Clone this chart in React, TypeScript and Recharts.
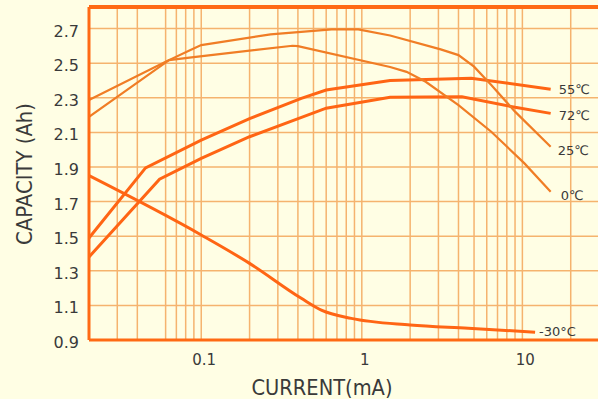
import React from "react"
import { LineChart, Line, XAxis, YAxis, CartesianGrid, ReferenceLine, Label } from "recharts"

// discharge current (mA) and capacity (Ah) per temperature
const current55 = [0.02, 0.045, 0.1, 0.2, 0.42, 0.6, 1.5, 4.8, 15]
const capacity55 = [1.49, 1.895, 2.055, 2.18, 2.297, 2.345, 2.4, 2.413, 2.35]

const current72 = [0.02, 0.055, 0.1, 0.2, 0.6, 1.5, 4.2, 9, 15]
const capacity72 = [1.38, 1.83, 1.95, 2.075, 2.24, 2.303, 2.306, 2.245, 2.21]

const current25 = [0.02, 0.063, 0.087, 0.1, 0.27, 0.65, 0.95, 1.5, 3.1, 4, 5, 6.4, 9, 15]
const capacity25 = [2.19, 2.518, 2.58, 2.605, 2.667, 2.696, 2.696, 2.66, 2.58, 2.547, 2.48, 2.374, 2.22, 2.017]

const current0 = [0.02, 0.063, 0.087, 0.37, 0.4, 1.5, 1.9, 2.5, 4, 6.4, 10.3, 15]
const capacity0 = [2.287, 2.518, 2.534, 2.601, 2.599, 2.478, 2.45, 2.393, 2.258, 2.104, 1.921, 1.757]

const currentM30 = [0.02, 0.1, 0.2, 0.42, 0.56, 0.86, 2, 4.6, 12]
const capacityM30 = [1.85, 1.507, 1.343, 1.141, 1.073, 1.025, 0.987, 0.968, 0.945]

const xGridTicks = [0.03, 0.04, 0.06, 0.07, 0.08, 0.09, 0.1, 0.2, 0.3, 0.4, 0.5, 0.6, 0.7, 0.8, 0.9, 1, 2, 3, 4, 5, 6, 7, 8, 9, 10, 20]
const xTickLabels = [0.1, 1, 10]
const yTicks = [0.9, 1.1, 1.3, 1.5, 1.7, 1.9, 2.1, 2.3, 2.5, 2.7]
const yMinorTicks = Array.from({ length: 97 }, (_, i) => Math.round((0.9 + i * 0.02) * 100) / 100)

const X_DOMAIN = [0.02, 30]
const Y_DOMAIN = [0.9, 2.825]

const BG = "#FFFEE4"
const BORDER = "#FF6A14"
const GRID = "#F5B36E"
const TEXT = "#3a3a3a"
const FONT = "'DejaVu Sans', sans-serif"

const toPoints = (xs: number[], ys: number[]) => xs.map((x, i) => ({ x, y: ys[i] }))

const series = [
  { key: "t55", label: "55℃", data: toPoints(current55, capacity55), color: "#FF6514", width: 3, curve: "linear", dx: 8, dy: 5 },
  { key: "t72", label: "72℃", data: toPoints(current72, capacity72), color: "#FF6514", width: 3, curve: "linear", dx: 8, dy: 7 },
  { key: "t25", label: "25℃", data: toPoints(current25, capacity25), color: "#F07D25", width: 2.2, curve: "linear", dx: 7, dy: 8 },
  { key: "t0", label: "0℃", data: toPoints(current0, capacity0), color: "#F07D25", width: 2.2, curve: "linear", dx: 10, dy: 8 },
  { key: "tm30", label: "-30°C", data: toPoints(currentM30, capacityM30), color: "#FF6514", width: 3, curve: "monotone", dx: 4, dy: 4 },
]

const endLabel = (text: string, last: number, dx: number, dy: number) => (props: any) => {
  if (props.index !== last) return <g />
  return (
    <text x={props.x + dx} y={props.y + dy} fontSize={13} fill={TEXT} fontFamily={FONT}>
      {text}
    </text>
  )
}

const XTick = (props: any) => {
  const { x, y, payload } = props
  if (!xTickLabels.includes(payload.value)) return <g />
  return (
    <text x={x + 3} y={y + 25} textAnchor="middle" fontSize={15} fill={TEXT} fontFamily={FONT}>
      {payload.value}
    </text>
  )
}

const YTick = (props: any) => {
  const { x, y, payload } = props
  return (
    <text x={x - 10} y={y + 8} textAnchor="end" fontSize={16} fill={TEXT} fontFamily={FONT}>
      {payload.value.toFixed(1)}
    </text>
  )
}

export default function App() {
  return (
    <div style={{ position: "fixed", left: 0, top: 0, width: 598, height: 399, background: BG, overflow: "hidden" }}>
      <LineChart width={599} height={399} margin={{ top: 7, right: 0, bottom: 0, left: 0 }}>
        <CartesianGrid stroke={GRID} strokeWidth={1.5} />
        <XAxis
          dataKey="x"
          type="number"
          scale="log"
          domain={X_DOMAIN}
          allowDataOverflow
          ticks={xGridTicks}
          interval={0}
          tick={<XTick />}
          tickLine={false}
          tickSize={0}
          tickMargin={0}
          axisLine={{ stroke: BORDER, strokeWidth: 3 }}
          height={59}
        >
          <Label
            content={() => (
              <text x={322} y={395} textAnchor="middle" fontSize={22} fill={TEXT} fontFamily={FONT} textLength={141} lengthAdjust="spacingAndGlyphs">
                CURRENT(mA)
              </text>
            )}
          />
        </XAxis>
        <YAxis
          type="number"
          domain={Y_DOMAIN}
          allowDataOverflow
          ticks={yTicks}
          interval={0}
          tick={<YTick />}
          tickLine={false}
          tickSize={0}
          tickMargin={0}
          axisLine={{ stroke: BORDER, strokeWidth: 3 }}
          width={89}
        >
          <Label
            content={() => (
              <text
                x={32}
                y={174}
                transform="rotate(-90 32 174)"
                textAnchor="middle"
                fontSize={22}
                fill={TEXT}
                fontFamily={FONT}
                textLength={142}
                lengthAdjust="spacingAndGlyphs"
              >
                CAPACITY (Ah)
              </text>
            )}
          />
        </YAxis>
        <YAxis
          yAxisId="minor"
          type="number"
          domain={Y_DOMAIN}
          allowDataOverflow
          ticks={yMinorTicks}
          interval={0}
          mirror
          tick={false}
          tickLine={{ stroke: "#F29455", strokeWidth: 1 }}
          tickSize={4}
          axisLine={false}
          width={10}
        />
        <ReferenceLine y={Y_DOMAIN[1]} stroke={BORDER} strokeWidth={4} />
        {series.map((s) => (
          <Line
            key={s.key}
            data={s.data}
            dataKey="y"
            type={s.curve as any}
            stroke={s.color}
            strokeWidth={s.width}
            dot={false}
            isAnimationActive={false}
            label={endLabel(s.label, s.data.length - 1, s.dx, s.dy)}
          />
        ))}
      </LineChart>
    </div>
  )
}
